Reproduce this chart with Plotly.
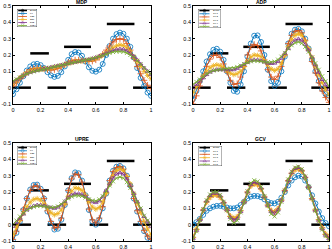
import plotly.graph_objects as go

# ---------------- data ----------------
x = [0.0, 0.025, 0.05, 0.075, 0.1, 0.125, 0.15, 0.175, 0.2, 0.225, 0.25, 0.275, 0.3, 0.325,
     0.35, 0.375, 0.4, 0.425, 0.45, 0.475, 0.5, 0.525, 0.55, 0.575, 0.6, 0.625, 0.65, 0.675,
     0.7, 0.725, 0.75, 0.775, 0.8, 0.825, 0.85, 0.875, 0.9, 0.925, 0.95, 0.975, 1.0]

# exact solution: piecewise-constant segments (start, end, level)
exact_start = [0.0, 0.125, 0.25, 0.37, 0.555, 0.68, 0.87]
exact_end = [0.13, 0.26, 0.385, 0.565, 0.69, 0.88, 1.0]
exact_level = [0.0, 0.21, 0.0, 0.25, 0.0, 0.39, 0.0]

titles = ["MDP", "ADP", "UPRE", "GCV"]
labels_a = ["Exact", "64", "128", "256", "512", "1024"]
labels_b = ["Exact", "1e-1", "1e-2", "1e-3", "1e-4", "1e-5"]

mdp_1 = [-0.04, -0.01, 0.03, 0.07, 0.105, 0.13, 0.143, 0.146, 0.138, 0.12, 0.095, 0.075, 0.066, 0.072,
         0.095, 0.13, 0.17, 0.205, 0.218, 0.215, 0.195, 0.16, 0.125, 0.103, 0.098, 0.11, 0.145, 0.2,
         0.255, 0.3, 0.328, 0.337, 0.33, 0.3, 0.25, 0.185, 0.12, 0.06, 0.01, -0.03, -0.05]
mdp_2 = [0.01, 0.03, 0.055, 0.075, 0.095, 0.11, 0.118, 0.12, 0.12, 0.115, 0.11, 0.108, 0.11, 0.117,
         0.128, 0.14, 0.155, 0.165, 0.17, 0.17, 0.167, 0.162, 0.16, 0.162, 0.17, 0.185, 0.205, 0.23,
         0.255, 0.28, 0.295, 0.3, 0.295, 0.27, 0.23, 0.18, 0.13, 0.085, 0.045, 0.015, -0.005]
mdp_3 = [0.025, 0.042, 0.06, 0.076, 0.09, 0.1, 0.108, 0.112, 0.115, 0.116, 0.118, 0.121, 0.125, 0.13,
         0.135, 0.141, 0.148, 0.154, 0.16, 0.163, 0.165, 0.167, 0.17, 0.174, 0.18, 0.189, 0.2, 0.214,
         0.23, 0.245, 0.256, 0.262, 0.258, 0.243, 0.22, 0.19, 0.16, 0.13, 0.1, 0.075, 0.055]
mdp_4 = [0.035, 0.048, 0.06, 0.073, 0.085, 0.094, 0.1, 0.105, 0.11, 0.115, 0.12, 0.125, 0.13, 0.134,
         0.138, 0.143, 0.148, 0.152, 0.156, 0.16, 0.165, 0.169, 0.173, 0.178, 0.185, 0.193, 0.2, 0.21,
         0.22, 0.228, 0.234, 0.236, 0.235, 0.225, 0.21, 0.19, 0.17, 0.145, 0.12, 0.1, 0.08]
mdp_5 = [0.04, 0.052, 0.063, 0.074, 0.085, 0.093, 0.099, 0.104, 0.108, 0.113, 0.118, 0.123, 0.128, 0.133,
         0.138, 0.143, 0.148, 0.152, 0.156, 0.16, 0.165, 0.169, 0.173, 0.178, 0.183, 0.19, 0.197, 0.205,
         0.212, 0.218, 0.221, 0.222, 0.22, 0.212, 0.2, 0.185, 0.165, 0.143, 0.12, 0.1, 0.085]

adp_1 = [-0.07, -0.02, 0.04, 0.1, 0.16, 0.205, 0.232, 0.238, 0.22, 0.17, 0.1, 0.03, -0.02, -0.025,
         0.02, 0.1, 0.19, 0.27, 0.318, 0.32, 0.28, 0.2, 0.11, 0.04, 0.01, 0.03, 0.1, 0.19,
         0.27, 0.33, 0.355, 0.36, 0.345, 0.3, 0.24, 0.17, 0.1, 0.04, -0.01, -0.04, -0.05]
adp_2 = [-0.1, -0.05, 0.01, 0.07, 0.13, 0.175, 0.197, 0.2, 0.185, 0.145, 0.095, 0.045, 0.02, 0.025,
         0.065, 0.13, 0.2, 0.25, 0.265, 0.258, 0.225, 0.17, 0.11, 0.065, 0.05, 0.07, 0.13, 0.2,
         0.27, 0.32, 0.345, 0.35, 0.335, 0.29, 0.23, 0.16, 0.09, 0.03, -0.02, -0.06, -0.09]
adp_3 = [-0.03, 0.005, 0.04, 0.07, 0.1, 0.122, 0.135, 0.14, 0.135, 0.122, 0.105, 0.088, 0.08, 0.085,
         0.1, 0.128, 0.16, 0.187, 0.2, 0.198, 0.19, 0.165, 0.14, 0.115, 0.105, 0.115, 0.15, 0.2,
         0.25, 0.295, 0.32, 0.33, 0.32, 0.285, 0.24, 0.185, 0.13, 0.08, 0.03, -0.01, -0.04]
adp_4 = [0.0, 0.02, 0.04, 0.06, 0.08, 0.095, 0.105, 0.11, 0.11, 0.11, 0.11, 0.11, 0.11, 0.118,
         0.13, 0.143, 0.155, 0.165, 0.17, 0.17, 0.165, 0.157, 0.15, 0.148, 0.15, 0.16, 0.18, 0.21,
         0.24, 0.27, 0.29, 0.298, 0.29, 0.265, 0.23, 0.185, 0.14, 0.095, 0.05, 0.02, -0.01]
adp_5 = [0.02, 0.035, 0.05, 0.068, 0.085, 0.097, 0.105, 0.108, 0.11, 0.112, 0.115, 0.117, 0.12, 0.127,
         0.135, 0.145, 0.155, 0.161, 0.165, 0.164, 0.162, 0.158, 0.155, 0.156, 0.16, 0.172, 0.19, 0.213,
         0.24, 0.26, 0.275, 0.28, 0.272, 0.25, 0.22, 0.185, 0.15, 0.11, 0.07, 0.04, 0.01]

upre_1 = [-0.1, -0.05, 0.02, 0.09, 0.16, 0.215, 0.243, 0.245, 0.22, 0.16, 0.08, 0.01, -0.03, -0.025,
          0.03, 0.12, 0.21, 0.285, 0.32, 0.315, 0.27, 0.18, 0.09, 0.02, 0.0, 0.03, 0.1, 0.19,
          0.27, 0.33, 0.355, 0.36, 0.345, 0.3, 0.24, 0.16, 0.08, 0.01, -0.04, -0.08, -0.1]
upre_2 = [-0.09, -0.04, 0.025, 0.095, 0.16, 0.21, 0.235, 0.237, 0.215, 0.16, 0.085, 0.02, -0.02, -0.015,
          0.04, 0.125, 0.21, 0.28, 0.31, 0.305, 0.26, 0.18, 0.095, 0.03, 0.01, 0.04, 0.11, 0.195,
          0.27, 0.325, 0.35, 0.355, 0.34, 0.295, 0.235, 0.16, 0.085, 0.02, -0.035, -0.07, -0.09]
upre_3 = [-0.06, -0.015, 0.03, 0.07, 0.11, 0.138, 0.155, 0.16, 0.15, 0.128, 0.1, 0.073, 0.06, 0.068,
          0.09, 0.128, 0.17, 0.205, 0.225, 0.222, 0.21, 0.18, 0.14, 0.108, 0.095, 0.105, 0.14, 0.19,
          0.25, 0.3, 0.33, 0.34, 0.33, 0.295, 0.25, 0.19, 0.13, 0.075, 0.02, -0.025, -0.06]
upre_4 = [-0.01, 0.015, 0.04, 0.065, 0.09, 0.105, 0.115, 0.12, 0.12, 0.115, 0.11, 0.104, 0.1, 0.107,
          0.12, 0.142, 0.165, 0.182, 0.19, 0.19, 0.185, 0.172, 0.155, 0.14, 0.135, 0.145, 0.17, 0.21,
          0.25, 0.285, 0.31, 0.318, 0.31, 0.28, 0.24, 0.19, 0.14, 0.095, 0.05, 0.02, -0.01]
upre_5 = [0.0, 0.025, 0.05, 0.07, 0.09, 0.102, 0.11, 0.114, 0.115, 0.112, 0.108, 0.106, 0.105, 0.112,
          0.125, 0.142, 0.16, 0.172, 0.178, 0.178, 0.175, 0.166, 0.155, 0.148, 0.145, 0.155, 0.175, 0.205,
          0.24, 0.265, 0.285, 0.292, 0.285, 0.26, 0.225, 0.185, 0.14, 0.1, 0.055, 0.025, 0.0]

gcv_1 = [0.0, 0.015, 0.035, 0.06, 0.085, 0.1, 0.11, 0.115, 0.115, 0.11, 0.105, 0.1, 0.1, 0.105,
         0.12, 0.14, 0.16, 0.172, 0.176, 0.175, 0.168, 0.155, 0.14, 0.132, 0.13, 0.14, 0.165, 0.2,
         0.24, 0.27, 0.29, 0.3, 0.295, 0.27, 0.23, 0.18, 0.13, 0.08, 0.04, 0.01, -0.01]
gcv_2 = [-0.08, -0.03, 0.03, 0.09, 0.14, 0.17, 0.185, 0.185, 0.17, 0.135, 0.09, 0.05, 0.035, 0.045,
         0.085, 0.14, 0.2, 0.24, 0.253, 0.248, 0.22, 0.17, 0.12, 0.085, 0.075, 0.095, 0.15, 0.21,
         0.27, 0.315, 0.34, 0.345, 0.33, 0.29, 0.23, 0.16, 0.09, 0.03, -0.02, -0.06, -0.08]
gcv_3 = [-0.075, -0.025, 0.03, 0.088, 0.135, 0.165, 0.18, 0.18, 0.165, 0.132, 0.09, 0.053, 0.04, 0.05,
         0.088, 0.14, 0.195, 0.235, 0.248, 0.243, 0.215, 0.168, 0.12, 0.087, 0.078, 0.098, 0.15, 0.21,
         0.268, 0.312, 0.336, 0.34, 0.326, 0.287, 0.228, 0.16, 0.09, 0.032, -0.018, -0.055, -0.075]
gcv_4 = [-0.085, -0.035, 0.03, 0.092, 0.145, 0.178, 0.193, 0.193, 0.176, 0.138, 0.09, 0.045, 0.028, 0.038,
         0.08, 0.138, 0.2, 0.245, 0.26, 0.255, 0.225, 0.172, 0.118, 0.08, 0.07, 0.09, 0.147, 0.21,
         0.272, 0.318, 0.344, 0.35, 0.335, 0.293, 0.232, 0.16, 0.088, 0.027, -0.025, -0.065, -0.085]
gcv_5 = [-0.09, -0.04, 0.028, 0.095, 0.15, 0.185, 0.2, 0.2, 0.182, 0.14, 0.088, 0.035, 0.01, 0.025,
         0.075, 0.138, 0.205, 0.255, 0.272, 0.265, 0.232, 0.175, 0.115, 0.065, 0.05, 0.075, 0.14, 0.21,
         0.277, 0.325, 0.35, 0.356, 0.34, 0.295, 0.232, 0.16, 0.085, 0.022, -0.03, -0.07, -0.09]

x_ticks = [0, 0.2, 0.4, 0.6, 0.8, 1]
x_ticktext = ["0", "0.2", "0.4", "0.6", "0.8", "1"]
y_ticks = [-0.1, 0, 0.1, 0.2, 0.3, 0.4, 0.5]
y_ticktext = ["-0.1", "0", "0.1", "0.2", "0.3", "0.4", "0.5"]

# ---------------- styling ----------------
W, H = 332, 249
colors = ["#0072BD", "#D95319", "#EDB120", "#7E2F8E", "#77AC30"]
symbols = ["circle-open", "cross-thin-open", "asterisk-open", "triangle-up-open", "x-thin-open"]
msizes = [5, 4.5, 4.5, 4, 4]
FONT = "Liberation Sans, Arial, sans-serif"

panels = [
    dict(title=titles[0], series=[mdp_1, mdp_2, mdp_3, mdp_4, mdp_5], labels=labels_a,
         px=(13, 151), py=(6, 104), lx=(17, 37), ly=(9, 27)),
    dict(title=titles[1], series=[adp_1, adp_2, adp_3, adp_4, adp_5], labels=labels_b,
         px=(193, 329), py=(6, 104), lx=(198, 221), ly=(9, 28)),
    dict(title=titles[2], series=[upre_1, upre_2, upre_3, upre_4, upre_5], labels=labels_a,
         px=(13, 151), py=(143, 241), lx=(17, 37), ly=(146, 165)),
    dict(title=titles[3], series=[gcv_1, gcv_2, gcv_3, gcv_4, gcv_5], labels=labels_b,
         px=(193, 329), py=(143, 241), lx=(198, 222), ly=(146, 166)),
]


def xdom(a, b):
    return [a / W, b / W]


def ydom(top, bottom):
    return [1 - bottom / H, 1 - top / H]


ex_x, ex_y = [], []
for s, e, lv in zip(exact_start, exact_end, exact_level):
    ex_x += [s, e, None]
    ex_y += [lv, lv, None]

fig = go.Figure()
layout = dict(width=W, height=H, margin=dict(l=0, r=0, t=0, b=0),
              paper_bgcolor="white", plot_bgcolor="white", showlegend=False,
              font=dict(family=FONT, color="black", size=6))
annotations = []

for i, p in enumerate(panels):
    n = i + 1
    xa = "x" if n == 1 else f"x{n}"
    ya = "y" if n == 1 else f"y{n}"
    axis_common = dict(showgrid=False, zeroline=False, showline=True, mirror="ticks",
                       linecolor="black", linewidth=0.8, ticks="inside", ticklen=2,
                       tickcolor="black", tickwidth=0.6, tickfont=dict(size=5.5, family=FONT),
                       automargin=False)
    layout["xaxis" if n == 1 else f"xaxis{n}"] = dict(
        domain=xdom(*p["px"]), anchor=ya, range=[0, 1], tickvals=x_ticks,
        ticktext=x_ticktext, **axis_common)
    layout["yaxis" if n == 1 else f"yaxis{n}"] = dict(
        domain=ydom(*p["py"]), anchor=xa, range=[-0.1, 0.5], tickvals=y_ticks,
        ticktext=y_ticktext, **axis_common)

    fig.add_trace(go.Scatter(x=ex_x, y=ex_y, mode="lines", xaxis=xa, yaxis=ya,
                             line=dict(color="black", width=2.5)))
    for k, ser in enumerate(p["series"]):
        fig.add_trace(go.Scatter(
            x=x, y=ser, mode="lines+markers", xaxis=xa, yaxis=ya,
            line=dict(color=colors[k], width=1),
            marker=dict(symbol=symbols[k], size=msizes[k], color=colors[k],
                        line=dict(color=colors[k], width=0.8))))

    # title
    annotations.append(dict(text=f"<b>{p['title']}</b>", x=(p["px"][0] + p["px"][1]) / 2 / W,
                            y=1 - p["py"][0] / H, xref="paper", yref="paper",
                            xanchor="center", yanchor="bottom", showarrow=False,
                            font=dict(size=5, family=FONT), yshift=-1))

# legends drawn on overlay axes (created after all data axes, so on top)
for i, p in enumerate(panels):
    ln = i + 5
    lxa, lya = f"x{ln}", f"y{ln}"
    layout[f"xaxis{ln}"] = dict(domain=xdom(*p["lx"]), anchor=lya, range=[0, 1],
                                visible=False, fixedrange=True)
    layout[f"yaxis{ln}"] = dict(domain=ydom(*p["ly"]), anchor=lxa, range=[0, 1],
                                visible=False, fixedrange=True)
    fig.add_trace(go.Scatter(x=[0, 1, 1, 0, 0], y=[0, 0, 1, 1, 0], mode="lines",
                             fill="toself", fillcolor="white", xaxis=lxa, yaxis=lya,
                             cliponaxis=False, line=dict(color="black", width=0.6)))
    nrow = len(p["labels"])
    for r, lab in enumerate(p["labels"]):
        yc = 1 - (r + 0.5) / nrow
        if r == 0:
            col, sym, ms, lw = "black", "circle", 2.5, 1.5
        else:
            col, sym, ms, lw = colors[r - 1], symbols[r - 1], 3, 0.8
        fig.add_trace(go.Scatter(x=[0.06, 0.28, 0.5], y=[yc, yc, yc], mode="lines+markers",
                                 xaxis=lxa, yaxis=lya, cliponaxis=False,
                                 line=dict(color=col, width=lw),
                                 marker=dict(symbol=sym, size=[0, ms, 0], color=col,
                                             line=dict(color=col, width=0.6))))
        annotations.append(dict(text=lab, x=0.56, y=yc, xref=lxa, yref=lya, xanchor="left",
                                yanchor="middle", showarrow=False,
                                font=dict(size=2.5, family=FONT)))

layout["annotations"] = annotations
fig.update_layout(**layout)
fig.write_html("out.html", config={"displayModeBar": False},
               post_script="document.body.style.margin='0px';document.body.style.padding='0px';"
                           "document.body.style.overflow='hidden';")
